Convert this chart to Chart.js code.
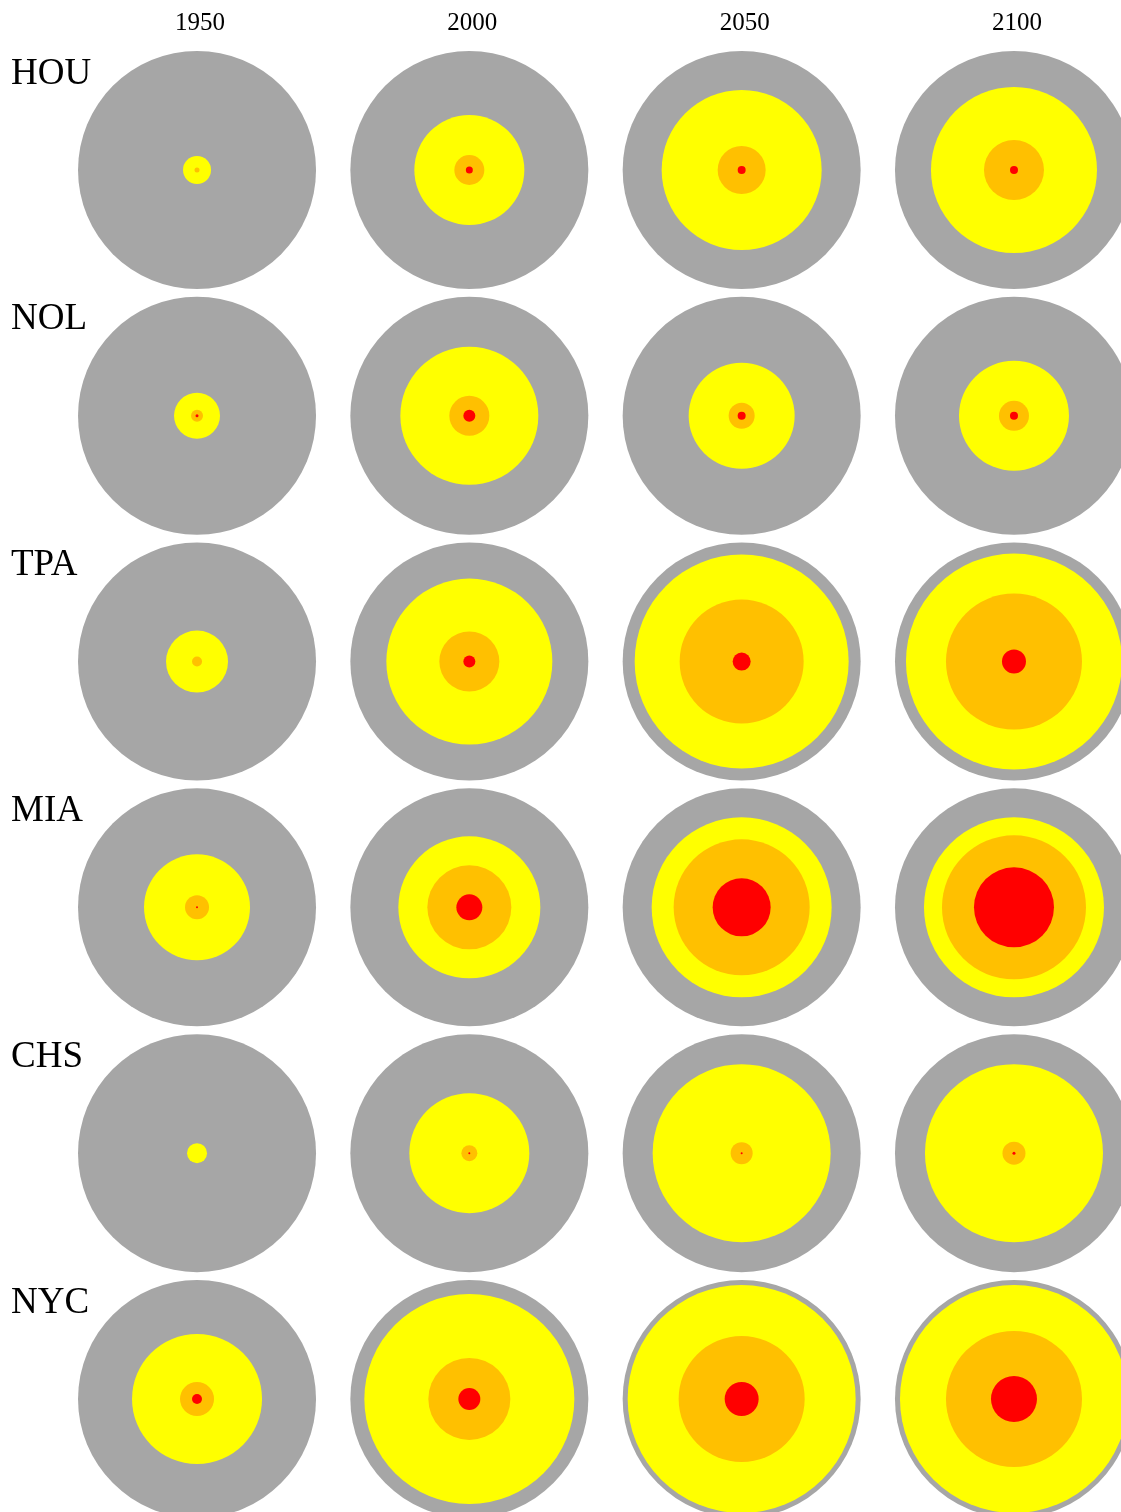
<!DOCTYPE html>
<html>
<head>
<meta charset="utf-8">
<script src="https://cdn.jsdelivr.net/npm/chart.js@4.4.1/dist/chart.umd.min.js"></script>
<style>
  html,body{margin:0;padding:0;background:#fff;}
  #wrap{position:relative;width:1121px;height:1512px;overflow:hidden;}
</style>
</head>
<body>
<div id="wrap"><canvas id="chart"></canvas></div>
<script>
// cities (rows) and years (columns)
const cities = ["HOU","NOL","TPA","MIA","CHS","NYC"];
const years = ["1950","2000","2050","2100"];

// ring radii per city/year
const grayR = [
  [119,119,119,119],
  [119,119,119,119],
  [119,119,119,119],
  [119,119,119,119],
  [119,119,119,119],
  [119,119,119,119]
];
const yellowR = [
  [14,55,80,83],
  [23,69,53,55],
  [31,83,107,108],
  [53,71,90,90],
  [10,60,89,89],
  [65,105,114,114]
];
const orangeR = [
  [2.5,15,24,30],
  [6,20,13,15],
  [5,30,62,68],
  [12,42,68,72],
  [0,8,11,11.5],
  [17,41,63,68]
];
const redR = [
  [0,3.5,4,4],
  [1.5,6,4,4],
  [0,6,9,12],
  [1,13,29,40],
  [0,1,1,1.5],
  [5,11,17,23]
];

function toPoints(radii){
  const pts=[];
  cities.forEach((c,i)=>{
    years.forEach((y,j)=>{
      pts.push({x:j,y:i,r:radii[i][j]});
    });
  });
  return pts;
}

// lower index drawn on top
const layers = [
  {label:"red", data:redR, color:"#ff0000"},
  {label:"orange", data:orangeR, color:"#ffc000"},
  {label:"yellow", data:yellowR, color:"#ffff00"},
  {label:"gray", data:grayR, color:"#a6a6a6"}
];

const labelsPlugin = {
  id:"gridLabels",
  afterDraw(chart){
    const ctx=chart.ctx, xs=chart.scales.x, ys=chart.scales.y;
    ctx.save();
    ctx.fillStyle="#000";
    ctx.textBaseline="middle";
    ctx.font="25px 'Liberation Serif', 'DejaVu Serif', serif";
    ctx.textAlign="center";
    years.forEach((y,j)=>{
      ctx.fillText(y, xs.getPixelForValue(j)+3, 23);
    });
    ctx.font="37px 'Liberation Serif', 'DejaVu Serif', serif";
    ctx.textAlign="left";
    cities.forEach((c,i)=>{
      ctx.fillText(c, 11, ys.getPixelForValue(i)-96);
    });
    ctx.restore();
  }
};

new Chart(document.getElementById("chart"),{
  type:"bubble",
  data:{
    datasets: layers.map(l=>({
      label:l.label,
      data:toPoints(l.data),
      backgroundColor:l.color,
      borderWidth:0,
      hoverBorderWidth:0,
      clip:false
    }))
  },
  options:{
    responsive:true,
    maintainAspectRatio:false,
    animation:false,
    events:[],
    layout:{padding:0,autoPadding:false},
    plugins:{legend:{display:false},tooltip:{enabled:false}},
    scales:{
      x:{type:"linear",display:false,min:-0.7235,max:3.393},
      y:{type:"linear",display:false,reverse:true,min:-0.6916,max:5.46}
    }
  },
  plugins:[labelsPlugin]
});
</script>
</body>
</html>
